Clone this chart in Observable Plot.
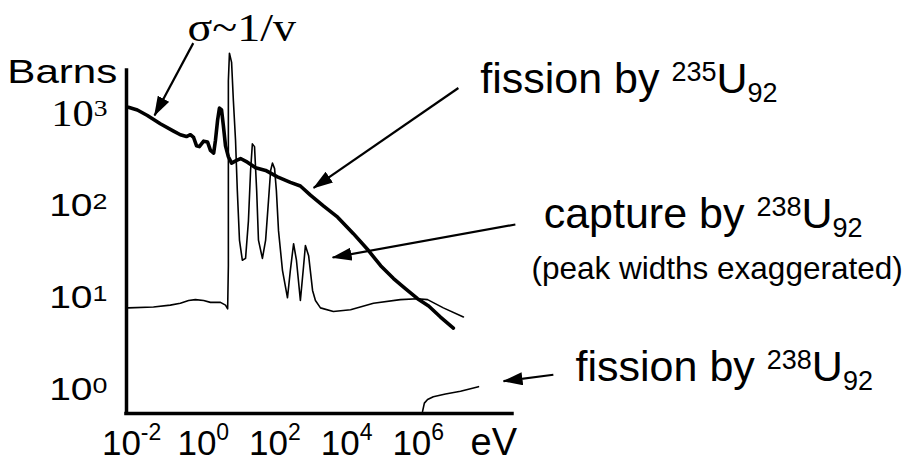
<!DOCTYPE html>
<html>
<head>
<meta charset="utf-8">
<script src="https://cdn.jsdelivr.net/npm/d3@7"></script>
<script src="https://cdn.jsdelivr.net/npm/@observablehq/plot@0.6"></script>
<style>
  html, body { margin: 0; padding: 0; background: #fff; }
  svg { display: block; }
</style>
</head>
<body>
<div id="chart"></div>
<script>
// ---------- data (decade exponents: log10(eV), log10(barns)) ----------
const u235FissionLogEV = [-2.09,-1.84,-1.56,-1.20,-0.83,-0.64,-0.47,-0.36,-0.27,-0.19,-0.11,0.01,0.12,0.20,0.29,0.34,0.40,0.45,0.51,0.56,0.62,0.70,0.79,0.93,1.04,1.23,1.46,1.74,2.07,2.43,2.71,2.99,3.36,3.75,4.19,4.58,4.95,5.31,5.64,5.98,6.29,6.62,6.98];
const u235FissionLogBarns = [3.08,3.05,2.99,2.90,2.82,2.78,2.76,2.78,2.75,2.66,2.65,2.71,2.70,2.61,2.58,2.72,2.94,3.07,3.05,2.88,2.66,2.54,2.47,2.50,2.52,2.48,2.42,2.39,2.32,2.26,2.22,2.12,2.00,1.88,1.70,1.53,1.35,1.21,1.10,0.99,0.91,0.79,0.67];

const u238CaptureLogEV = [-2.09,-1.39,-0.92,-0.64,-0.41,-0.22,0.01,0.20,0.48,0.62,0.68,0.70,0.70,0.70,0.73,0.79,0.84,0.90,0.95,1.01,1.09,1.18,1.26,1.32,1.37,1.43,1.49,1.54,1.65,1.74,1.82,1.88,1.93,1.99,2.04,2.10,2.21,2.35,2.43,2.52,2.60,2.71,2.80,2.85,2.94,3.05,3.13,3.27,3.63,4.11,4.75,5.50,5.98,6.26,6.70,7.26];
const u238CaptureLogBarns = [0.89,0.90,0.92,0.94,0.97,0.98,0.97,0.95,0.95,0.92,0.88,1.35,2.61,3.37,3.67,3.57,3.15,2.72,2.17,1.63,1.41,1.43,1.84,2.39,2.68,2.65,2.17,1.63,1.43,1.63,2.06,2.39,2.47,2.41,2.17,1.73,1.30,1.00,1.30,1.59,1.41,0.97,1.35,1.57,1.46,1.08,0.97,0.89,0.85,0.87,0.94,0.98,0.99,0.98,0.89,0.79];

const u238FissionLogEV = [6.12,6.17,6.26,6.42,6.76,7.18,7.68];
const u238FissionLogBarns = [-0.24,-0.15,-0.11,-0.08,-0.05,-0.02,0.03];

// axis extents (decade exponents)
const xExtentLog = [-2.143, 8.63];
const yExtentLog = [-0.263, 3.481];

// tick labels
const xTickExponents = [-2, 0, 2, 4, 6];
const xTickLabels = ["10^{-2}", "10^{0}", "10^{2}", "10^{4}", "10^{6}"];
const yTickSerifExponents = [3];
const yTickSerifLabels = ["10^{3}"];
const yTickSansExponents = [2, 1, 0];
const yTickSansLabels = ["10^{2}", "10^{1}", "10^{0}"];

// annotation texts and their anchors (decade exponents)
const curveLabels = ["fission by ^{235}U_{92}", "capture by ^{238}U_{92}", "fission by ^{238}U_{92}"];
const curveLabelLogEV = [7.73, 9.50, 10.39];
const curveLabelLogBarns = [3.24, 1.76, 0.09];
const noteLabel = ["(peak widths exaggerated)"];
const noteLogEV = [9.16];
const noteLogBarns = [1.20];
const sigmaLabel = ["σ~1/v"];
const sigmaLogEV = [-0.44];
const sigmaLogBarns = [3.80];
const yTitle = ["Barns"];
const yTitleLogEV = [-5.47];
const yTitleLogBarns = [3.35];
const xTitle = ["eV"];
const xTitleLogEV = [7.46];
const tickLabelLogBarns = -0.715;
const yTickLabelLogEV = -2.674;

// arrows: start -> tip (decade exponents)
const arrowStartLogEV = [-0.28, 7.12, 8.71, 9.77];
const arrowStartLogBarns = [3.78, 3.29, 1.80, 0.16];
const arrowTipLogEV = [-1.36, 3.08, 3.61, 8.38];
const arrowTipLogBarns = [2.99, 2.20, 1.44, 0.09];

// ---------- build tables ----------
const p10 = (v) => Math.pow(10, v);
const series = (ex, ey) => ex.map((e, i) => ({eV: p10(e), barns: p10(ey[i])}));
const u235 = series(u235FissionLogEV, u235FissionLogBarns);
const capture = series(u238CaptureLogEV, u238CaptureLogBarns);
const u238f = series(u238FissionLogEV, u238FissionLogBarns);
const arrows = arrowStartLogEV.map((e, i) => ({
  x1: p10(e), y1: p10(arrowStartLogBarns[i]), x2: p10(arrowTipLogEV[i]), y2: p10(arrowTipLogBarns[i])
}));
const xTicks = xTickExponents.map((e, i) => ({x: p10(e), y: p10(tickLabelLogBarns), t: xTickLabels[i]}));
const yTicksSerif = yTickSerifExponents.map((e, i) => ({x: p10(yTickLabelLogEV), y: p10(e), t: yTickSerifLabels[i]}));
const yTicksSans = yTickSansExponents.map((e, i) => ({x: p10(yTickLabelLogEV), y: p10(e), t: yTickSansLabels[i]}));
const texts = (labels, ex, ey) => labels.map((t, i) => ({t, x: p10(ex[i]), y: p10(ey[i])}));
const curveText = texts(curveLabels, curveLabelLogEV, curveLabelLogBarns);
const noteText = texts(noteLabel, noteLogEV, noteLogBarns);
const sigmaText = texts(sigmaLabel, sigmaLogEV, sigmaLogBarns);
const yTitleText = texts(yTitle, yTitleLogEV, yTitleLogBarns);
const xTitleText = texts(xTitle, xTitleLogEV, [tickLabelLogBarns]);

const xMin = p10(xExtentLog[0]), xMax = p10(xExtentLog[1]);
const yMin = p10(yExtentLog[0]), yMax = p10(yExtentLog[1]);

const SANS = "'Liberation Sans', Arial, Helvetica, sans-serif";
const SERIF = "'Liberation Serif', 'Times New Roman', serif";

// text marks in order; each entry carries its super/subscript settings for the post-pass
const textSpecs = [
  {data: xTicks, anchor: "middle", line: "bottom", size: 35, font: SANS, rich: {sup: -15, supSize: 23}},
  {data: yTicksSerif, anchor: "end", line: "middle", size: 37, font: SERIF, rich: {sup: -10, supSize: 24, scaleX: 1.15}},
  {data: yTicksSans, anchor: "end", line: "middle", size: 32, font: SANS, rich: {sup: -7, supSize: 22, scaleX: 1.22}},
  {data: curveText, anchor: "start", line: "bottom", size: 43, font: SANS, rich: {sup: -12, supSize: 27, sub: 9, subSize: 27}},
  {data: noteText, anchor: "start", line: "bottom", size: 31.5, font: SANS, rich: {}},
  {data: sigmaText, anchor: "start", line: "bottom", size: 40, font: SERIF, rich: {scaleX: 1.15}},
  {data: yTitleText, anchor: "start", line: "bottom", size: 34, font: SANS, rich: {scaleX: 1.24}},
  {data: xTitleText, anchor: "start", line: "bottom", size: 38, font: SANS, rich: {}}
];

const svg = Plot.plot({
  width: 908,
  height: 462,
  marginLeft: 126,
  marginRight: 396,
  marginTop: 70,
  marginBottom: 49,
  x: {type: "log", domain: [xMin, xMax], axis: null},
  y: {type: "log", domain: [yMin, yMax], axis: null},
  style: {background: "white", color: "black"},
  marks: [
    Plot.line(capture, {x: "eV", y: "barns", stroke: "black", strokeWidth: 1.6, strokeLinejoin: "round"}),
    Plot.line(u238f, {x: "eV", y: "barns", stroke: "black", strokeWidth: 1.6, strokeLinejoin: "round"}),
    Plot.line(u235, {x: "eV", y: "barns", stroke: "black", strokeWidth: 3.6, strokeLinejoin: "round", strokeLinecap: "round"}),
    Plot.ruleX([xMin], {y1: yMin, y2: yMax, stroke: "black", strokeWidth: 3.5, strokeLinecap: "square"}),
    Plot.ruleY([yMin], {x1: xMin, x2: xMax, stroke: "black", strokeWidth: 3.5, strokeLinecap: "square"}),
    Plot.link(arrows, {x1: "x1", y1: "y1", x2: "x2", y2: "y2", stroke: "black", strokeWidth: 2.2}),
    ...textSpecs.map((s) => Plot.text(s.data, {
      x: "x", y: "y", text: "t", textAnchor: s.anchor, lineAnchor: s.line,
      fontSize: s.size, fontFamily: s.font, fill: "black"
    }))
  ]
});

document.getElementById("chart").appendChild(svg);

// ---------- rich text: superscripts / subscripts, horizontal stretch ----------
function richText(group, o) {
  d3.select(group).selectAll("text").each(function () {
    const el = d3.select(this);
    const raw = this.textContent;
    const parts = raw.split(/(\^\{[^}]*\}|_\{[^}]*\})/).filter((s) => s.length);
    if (parts.length > 1) {
      el.text(null);
      let cur = 0;
      for (const p of parts) {
        let target = 0, size = null, t = p;
        if (p.startsWith("^{")) { target = o.sup; size = o.supSize; t = p.slice(2, -1); }
        else if (p.startsWith("_{")) { target = o.sub; size = o.subSize; t = p.slice(2, -1); }
        const ts = el.append("tspan").text(t);
        if (size) ts.attr("font-size", size);
        if (target !== cur) ts.attr("dy", target - cur);
        cur = target;
      }
    }
    if (o.scaleX && o.scaleX !== 1) {
      el.attr("transform", (el.attr("transform") || "") + ` scale(${o.scaleX},1)`);
    }
  });
}
const textGroups = Array.from(svg.children).filter((n) => n.tagName === "g" && n.getAttribute("aria-label") === "text");
textGroups.forEach((g, i) => { if (textSpecs[i]) richText(g, textSpecs[i].rich); });

// filled arrowheads on the link mark
const defs = d3.select(svg).insert("defs", ":first-child");
defs.append("marker")
  .attr("id", "arrowhead")
  .attr("viewBox", "0 0 20 13")
  .attr("refX", 19).attr("refY", 6.5)
  .attr("markerWidth", 20).attr("markerHeight", 13)
  .attr("markerUnits", "userSpaceOnUse")
  .attr("orient", "auto")
  .append("path").attr("d", "M0,0L20,6.5L0,13Z").attr("fill", "black");
const linkGroups = Array.from(svg.children).filter((n) => n.tagName === "g" && n.getAttribute("aria-label") === "link");
linkGroups.forEach((g) => d3.select(g).selectAll("path").attr("marker-end", "url(#arrowhead)"));
</script>
</body>
</html>
